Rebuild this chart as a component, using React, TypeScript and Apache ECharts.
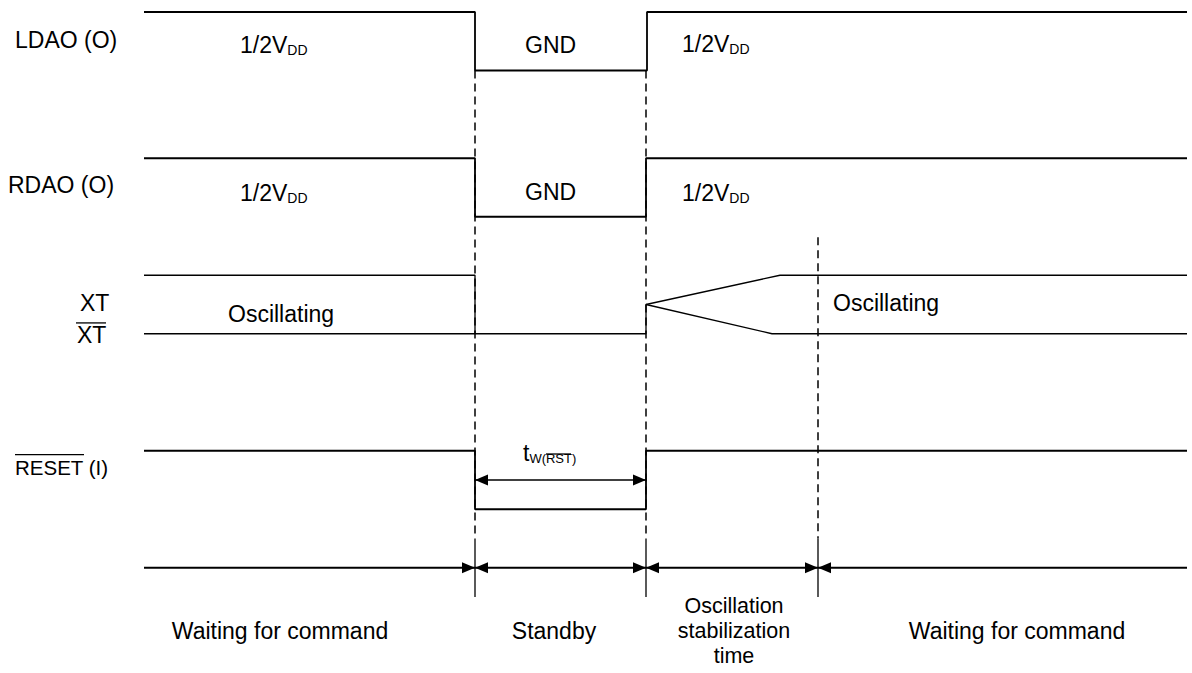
import React, { useEffect, useRef } from "react";
import * as echarts from "echarts";

const FONT = "'Liberation Sans', Arial, Helvetica, sans-serif";

// ---- time axis (arbitrary time units) ----
const phaseBounds = [0, 331, 502, 674, 1043];
const phaseNames = [
  "Waiting for command",
  "Standby",
  "Oscillation\nstabilization\ntime",
  "Waiting for command",
];
const phaseLabelT = [136, 410, 590, 873];
const phaseLabelLevel = 10.58;

// ---- waveforms: [time, level]; one level unit = one signal swing ----
const ldaoWave = [[0, 0], [331, 0], [331, 1], [503, 1], [503, 0], [1043, 0]];
const rdaoWave = [[0, 2.5], [331, 2.5], [331, 3.5], [502, 3.5], [502, 2.5], [1043, 2.5]];
const xtWave = [[0, 4.5], [331, 4.5], [331, 5.5]];
const xtBarWave = [[0, 5.5], [502, 5.5], [502, 5.0], [636, 4.5], [1043, 4.5]];
const xtBarBranch = [[502, 5.0], [628, 5.5], [1043, 5.5]];
const resetWave = [[0, 7.5], [331, 7.5], [331, 8.5], [502, 8.5], [502, 7.5], [1043, 7.5]];

// ---- guides ----
const dashedGuides = [[331, 1, 9], [502, 1, 9], [674, 3.85, 9]];
const phaseTicks = [[331, 9, 10], [502, 9, 10], [674, 9, 10]];
const timelineLevel = 9.5;
const pulseWidthLevel = 8.0;

// ---- texts ----
const signalNames = ["LDAO (O)", "RDAO (O)", "XT", "XT", "RESET (I)"];
const signalLabelPos = [[-129, 0.48], [-136, 2.96], [-64, 4.97], [-67, 5.52], [-129, 7.79]];
const levelTexts = ["1/2V|DD", "GND", "1/2V|DD", "1/2V|DD", "GND", "1/2V|DD", "Oscillating", "Oscillating"];
const levelLabelPos = [[96, 0.57], [381, 0.56], [538, 0.54], [96, 3.1], [381, 3.085], [538, 3.09], [84, 5.16], [689, 4.97]];
const pulseWidthLabel = "t|W(RST)";
const pulseWidthLabelPos = [379, 7.53];

type LabelSpec = {
  text: string;
  size: number;
  align: "left" | "center";
  over?: [number, number, number];
  lineHeight?: number;
};

function richText(raw: string) {
  const [m, s] = raw.split("|");
  return s ? `{m|${m}}{s|${s}}` : `{m|${m}}`;
}

export default function App() {
  const ref = useRef<HTMLDivElement>(null);

  useEffect(() => {
    if (!ref.current) return;
    const chart = echarts.init(ref.current, undefined, { renderer: "svg" });

    const labels: LabelSpec[] = [];
    const labelData: number[][] = [];
    signalNames.forEach((n, i) => {
      const spec: LabelSpec = { text: `{m|${n}}`, size: i === 4 ? 20.5 : 23, align: "left" };
      if (i === 3) spec.over = [-1, 29, -12];
      if (i === 4) spec.over = [0, 69, -13];
      labels.push(spec);
      labelData.push([signalLabelPos[i][0], signalLabelPos[i][1], labels.length - 1]);
    });
    levelTexts.forEach((t, i) => {
      labels.push({ text: richText(t), size: 23, align: "left" });
      labelData.push([levelLabelPos[i][0], levelLabelPos[i][1], labels.length - 1]);
    });
    labels.push({ text: richText(pulseWidthLabel), size: 23, align: "left", over: [23, 48, 1.5] });
    labelData.push([pulseWidthLabelPos[0], pulseWidthLabelPos[1], labels.length - 1]);
    phaseNames.forEach((n, i) => {
      const multi = n.indexOf("\n") >= 0;
      labels.push({ text: n, size: multi ? 21.5 : 23, align: "center", lineHeight: multi ? 25 : 26 });
      labelData.push([phaseLabelT[i], phaseLabelLevel, labels.length - 1]);
    });

    // dimension arrows: [t1, t2, level, startArrow, endArrow, lineWidth]
    const arrowData: number[][] = [];
    for (let i = 0; i < phaseBounds.length - 1; i++) {
      arrowData.push([
        phaseBounds[i],
        phaseBounds[i + 1],
        timelineLevel,
        i === 0 ? 0 : 1,
        i === phaseBounds.length - 2 ? 0 : 1,
        2,
      ]);
    }
    arrowData.push([phaseBounds[1], phaseBounds[2], pulseWidthLevel, 1, 1, 1.3]);

    const guideData = [
      ...dashedGuides.map((g) => [g[0], g[1], g[2], 1]),
      ...phaseTicks.map((g) => [g[0], g[1], g[2], 0]),
    ];

    const wave = (data: number[][], width: number) => ({
      type: "line",
      data,
      symbol: "none",
      silent: true,
      z: 3,
      lineStyle: { color: "#000", width },
    });

    chart.setOption({
      animation: false,
      backgroundColor: "#fff",
      grid: { left: 144, top: 12, width: 1043, height: 585 },
      xAxis: { type: "value", min: 0, max: 1043, show: false },
      yAxis: { type: "value", min: 0, max: 10, inverse: true, show: false },
      series: [
        wave(ldaoWave, 1.8),
        wave(rdaoWave, 1.8),
        wave(xtWave, 1.3),
        wave(xtBarWave, 1.3),
        wave(xtBarBranch, 1.3),
        wave(resetWave, 1.8),
        {
          type: "custom",
          silent: true,
          z: 2,
          data: guideData,
          renderItem: (_p: any, api: any) => {
            const a = api.coord([api.value(0), api.value(1)]);
            const b = api.coord([api.value(0), api.value(2)]);
            const dashed = api.value(3) === 1;
            return {
              type: "line",
              shape: { x1: a[0], y1: a[1], x2: b[0], y2: b[1] },
              style: {
                stroke: "#000",
                lineWidth: dashed ? 1.5 : 1.3,
                lineDash: dashed ? [8, 5] : null,
              },
            };
          },
        },
        {
          type: "custom",
          silent: true,
          z: 4,
          data: arrowData,
          renderItem: (_p: any, api: any) => {
            const a = api.coord([api.value(0), api.value(2)]);
            const b = api.coord([api.value(1), api.value(2)]);
            const L = 13;
            const H = 5.5;
            const children: any[] = [
              {
                type: "line",
                shape: { x1: a[0], y1: a[1], x2: b[0], y2: b[1] },
                style: { stroke: "#000", lineWidth: api.value(5) },
              },
            ];
            if (api.value(3) === 1) {
              children.push({
                type: "polygon",
                shape: { points: [[a[0], a[1]], [a[0] + L, a[1] - H], [a[0] + L, a[1] + H]] },
                style: { fill: "#000" },
              });
            }
            if (api.value(4) === 1) {
              children.push({
                type: "polygon",
                shape: { points: [[b[0], b[1]], [b[0] - L, b[1] - H], [b[0] - L, b[1] + H]] },
                style: { fill: "#000" },
              });
            }
            return { type: "group", children };
          },
        },
        {
          type: "custom",
          silent: true,
          z: 5,
          data: labelData,
          renderItem: (_p: any, api: any) => {
            const spec = labels[api.value(2)];
            const p = api.coord([api.value(0), api.value(1)]);
            const sub = spec.text.indexOf("{s|") >= 0;
            const isT = spec.text.startsWith("{m|t}");
            const children: any[] = [
              {
                type: "text",
                x: p[0],
                y: p[1],
                style: {
                  text: spec.text,
                  fill: "#000",
                  align: spec.align,
                  verticalAlign: "middle",
                  fontFamily: FONT,
                  fontSize: spec.size,
                  lineHeight: spec.lineHeight,
                  rich: {
                    m: { fontSize: spec.size, fontFamily: FONT, fill: "#000", lineHeight: sub ? 24 : undefined },
                    s: {
                      fontSize: isT ? 13 : 14,
                      fontFamily: FONT,
                      fill: "#000",
                      lineHeight: isT ? 11 : 10,
                      verticalAlign: "bottom",
                    },
                  },
                },
              },
            ];
            if (spec.over) {
              const [d1, d2, dy] = spec.over;
              children.push({
                type: "line",
                shape: { x1: p[0] + d1, y1: p[1] + dy, x2: p[0] + d2, y2: p[1] + dy },
                style: { stroke: "#000", lineWidth: 1.3 },
              });
            }
            return { type: "group", children };
          },
        },
      ],
    });

    return () => chart.dispose();
  }, []);

  return (
    <div
      ref={ref}
      style={{ position: "fixed", left: 0, top: 0, width: 1192, height: 673, background: "#fff" }}
    />
  );
}
